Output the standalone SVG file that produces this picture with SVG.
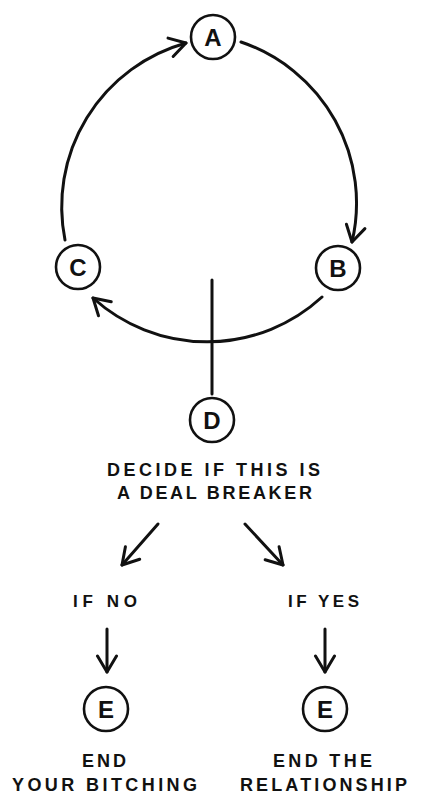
<svg xmlns="http://www.w3.org/2000/svg" width="447" height="806" viewBox="0 0 447 806">
<style>
.node circle{fill:#fff;stroke:#111;stroke-width:2.6}
.node text{font-family:"Liberation Sans",Arial,sans-serif;font-weight:bold;font-size:24px;fill:#111;text-anchor:middle}
.lbl{font-family:"Liberation Sans",Arial,sans-serif;font-weight:bold;font-size:18px;fill:#111;text-anchor:middle}
.sm{font-size:17px}
.conn path{fill:none;stroke:#111;stroke-width:3;stroke-linecap:round}
</style>
<defs>
<marker id="arr" markerUnits="userSpaceOnUse" viewBox="-20 -12 22 24" refX="0" refY="0" markerWidth="22" markerHeight="24" orient="auto">
<path d="M-16,-9.5 L0,0 L-16,9.5" fill="none" stroke="#111" stroke-width="3" stroke-linecap="round" stroke-linejoin="round"/>
</marker>
</defs>
<rect width="447" height="806" fill="#fff"/>
<g id="connectors" class="conn">
<path d="M65,240 A170,170 0 0 1 186,43" marker-end="url(#arr)"/>
<path d="M241,42 A170,170 0 0 1 352,242" marker-end="url(#arr)"/>
<path d="M322,297 A170,170 0 0 1 93,298" marker-end="url(#arr)"/>
<path d="M212,280 L212,394"/>
<path d="M158,524 L122,565" marker-end="url(#arr)"/>
<path d="M245,524 L283,565" marker-end="url(#arr)"/>
<path d="M107,629 L107,672" marker-end="url(#arr)"/>
<path d="M325,629 L325,672" marker-end="url(#arr)"/>
</g>
<g id="node-A" class="node"><circle cx="213" cy="37" r="22"/><text x="213" y="46">A</text></g>
<g id="node-B" class="node"><circle cx="338" cy="268" r="22"/><text x="338" y="277">B</text></g>
<g id="node-C" class="node"><circle cx="78" cy="267" r="22"/><text x="78" y="276">C</text></g>
<g id="node-D" class="node"><circle cx="212" cy="420" r="22"/><text x="212" y="429">D</text></g>
<g id="label-D">
<text class="lbl" x="213.5" y="476" textLength="213" lengthAdjust="spacing">DECIDE IF THIS IS</text>
<text class="lbl" x="214.5" y="499" textLength="195" lengthAdjust="spacing">A DEAL BREAKER</text>
</g>
<g id="label-no"><text class="lbl sm" x="105" y="607" textLength="64" lengthAdjust="spacing">IF NO</text></g>
<g id="label-yes"><text class="lbl sm" x="323.5" y="607" textLength="71" lengthAdjust="spacing">IF YES</text></g>
<g id="node-E1" class="node"><circle cx="106" cy="709" r="22"/><text x="106" y="718">E</text></g>
<g id="node-E2" class="node"><circle cx="325" cy="709" r="22"/><text x="325" y="718">E</text></g>
<g id="label-E1">
<text class="lbl" x="104" y="767" textLength="44" lengthAdjust="spacing">END</text>
<text class="lbl" x="104.5" y="791" textLength="185" lengthAdjust="spacing">YOUR BITCHING</text>
</g>
<g id="label-E2">
<text class="lbl" x="322.5" y="767" textLength="99" lengthAdjust="spacing">END THE</text>
<text class="lbl" x="323.5" y="791" textLength="167" lengthAdjust="spacing">RELATIONSHIP</text>
</g>
</svg>
